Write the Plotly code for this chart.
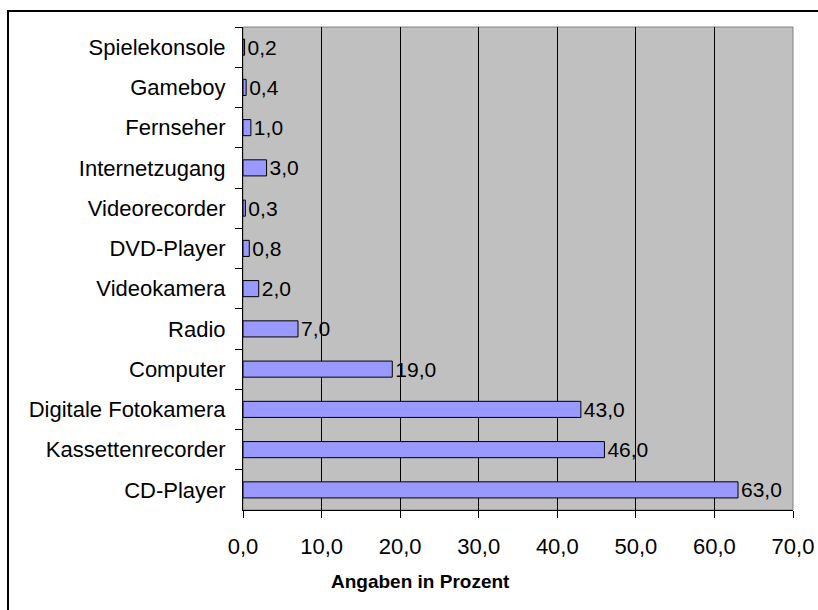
import plotly.graph_objects as go

categories = ["Spielekonsole", "Gameboy", "Fernseher", "Internetzugang", "Videorecorder",
              "DVD-Player", "Videokamera", "Radio", "Computer", "Digitale Fotokamera",
              "Kassettenrecorder", "CD-Player"]
values = [0.2, 0.4, 1.0, 3.0, 0.3, 0.8, 2.0, 7.0, 19.0, 43.0, 46.0, 63.0]
x_ticks = [0, 10, 20, 30, 40, 50, 60, 70]
x_title = "Angaben in Prozent"

FONT = "Liberation Sans, Arial, sans-serif"

L, T, PW, PH = 243, 27, 550, 483
W, H = 818, 610


def px(x):
    return (x - L) / PW


def py(y):
    return 1 - (y - T) / PH


fig = go.Figure(go.Bar(
    y=categories, x=values, orientation="h",
    marker=dict(color="#9999FF", line=dict(color="black", width=1)),
    width=0.4,
    text=values, texttemplate="%{x:.1f}", textposition="outside",
    textfont=dict(family=FONT, size=21, color="black"),
    constraintext="none",
    cliponaxis=False,
))

fig.update_layout(
    width=W, height=H,
    margin=dict(l=L, r=W - L - PW, t=T, b=H - T - PH),
    paper_bgcolor="white", plot_bgcolor="#C0C0C0",
    separators=",.",
    showlegend=False,
    font=dict(family=FONT, size=22, color="black"),
    xaxis=dict(
        range=[0, 70], tickvals=x_ticks, tickformat=".1f",
        showgrid=True, gridcolor="black", gridwidth=1,
        showline=True, linecolor="black", linewidth=1,
        ticks="outside", ticklen=7, tickcolor="black",
        ticklabelstandoff=10,
        zeroline=False, automargin=False,
    ),
    yaxis=dict(
        autorange="reversed", showgrid=False,
        showline=True, linecolor="black", linewidth=1,
        ticks="outside", ticklen=7, tickcolor="black", tickson="boundaries",
        ticklabelstandoff=12,
        automargin=False,
    ),
    annotations=[
        dict(text="<b>" + x_title + "</b>", xref="paper", yref="paper",
             x=px(420), y=py(581), xanchor="center", yanchor="middle",
             showarrow=False, font=dict(family=FONT, size=19, color="black")),
    ],
    shapes=[
        dict(type="rect", xref="paper", yref="paper", x0=0, x1=1, y0=0, y1=1,
             line=dict(color="#808080", width=1), layer="below"),
        dict(type="line", xref="paper", yref="paper",
             x0=px(7), x1=px(W + 10), y0=py(11), y1=py(11),
             line=dict(color="black", width=2)),
        dict(type="line", xref="paper", yref="paper",
             x0=px(8), x1=px(8), y0=py(10), y1=py(H + 10),
             line=dict(color="black", width=2)),
    ],
)

fig.write_html(
    "out.html",
    config={"displayModeBar": False},
    post_script="document.body.style.margin='0';"
                "document.documentElement.style.overflow='hidden';",
)
